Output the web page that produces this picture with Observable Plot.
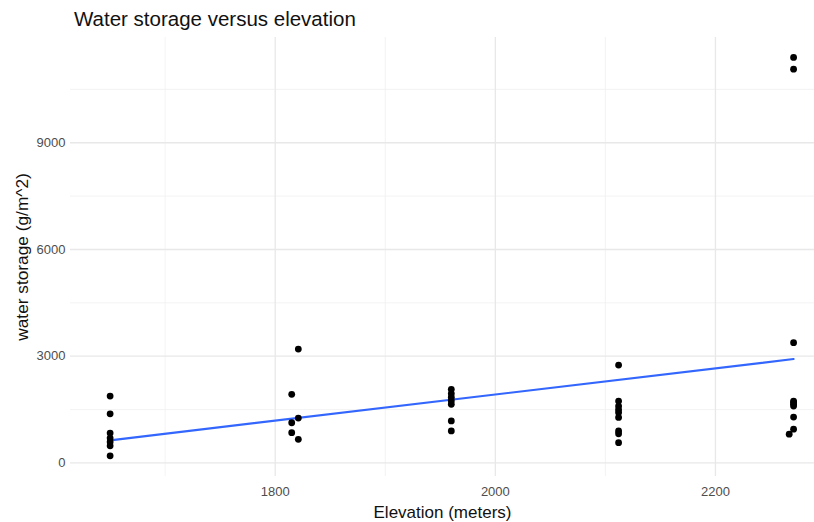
<!DOCTYPE html>
<html>
<head>
<meta charset="utf-8">
<script src="https://cdn.jsdelivr.net/npm/d3@7"></script>
<script src="https://cdn.jsdelivr.net/npm/@observablehq/plot@0.6"></script>
<style>
  body { margin: 0; background: #fff; font-family: "Liberation Sans", Arial, sans-serif; }
  #title { height: 21px; padding-top: 9px; padding-left: 74px; font-size: 20.5px; line-height: 1; color: #111; }
  #chart svg { display: block; }
</style>
</head>
<body>
<div id="title">Water storage versus elevation</div>
<div id="chart"></div>
<script>
const elevation = [
  1650, 1650, 1650, 1650, 1650, 1650, 1650,
  1815, 1815, 1815, 1821, 1821, 1821,
  1960, 1960, 1960, 1960, 1960, 1960, 1960,
  2112, 2112, 2112, 2112, 2112, 2112, 2112, 2112, 2112,
  2271, 2271, 2271, 2271, 2271, 2271, 2271, 2271, 2271, 2267
];
const storage = [
  1880, 1380, 840, 700, 590, 480, 200,
  1930, 1130, 850, 3200, 1260, 665,
  2070, 1950, 1850, 1750, 1650, 1180, 900,
  2750, 1740, 1600, 1500, 1420, 1280, 900, 820, 570,
  11400, 11070, 3380, 1740, 1700, 1650, 1600, 1290, 950, 810
];
const xMajor = [1800, 2000, 2200];
const xMinor = [1700, 1900, 2100];
const yMajor = [0, 3000, 6000, 9000];
const yMinor = [1500, 4500, 7500, 10500];

const data = elevation.map((e, i) => ({elevation: e, storage: storage[i]}));

const chart = Plot.plot({
  width: 814,
  height: 492,
  marginLeft: 70,
  marginRight: 0,
  marginTop: 7,
  marginBottom: 46,
  style: { fontFamily: "Liberation Sans, Arial, sans-serif", background: "#fff" },
  x: { domain: [1614, 2290] },
  y: { domain: [-381, 11959] },
  marks: [
    Plot.ruleX(xMinor, { stroke: "#f0f0f0", strokeWidth: 0.8 }),
    Plot.ruleY(yMinor, { stroke: "#f0f0f0", strokeWidth: 0.8 }),
    Plot.ruleX(xMajor, { stroke: "#e8e8e8", strokeWidth: 1.3 }),
    Plot.ruleY(yMajor, { stroke: "#e8e8e8", strokeWidth: 1.3 }),
    Plot.axisX({ ticks: xMajor, tickSize: 0, tickPadding: 10, tickFormat: d => String(d), fontSize: 13, fill: "#4d4d4d", label: null }),
    Plot.axisY({ ticks: yMajor, tickSize: 0, tickPadding: 5, tickFormat: d => String(d), fontSize: 13, fill: "#4d4d4d", label: null }),
    Plot.text(["Elevation (meters)"], { frameAnchor: "bottom", lineAnchor: "bottom", dy: 41, fontSize: 17, fill: "#111" }),
    Plot.text(["water storage (g/m^2)"], { frameAnchor: "left", textAnchor: "middle", rotate: -90, dx: -48, fontSize: 17.3, fill: "#111" }),
    Plot.linearRegressionY(data, { x: "elevation", y: "storage", ci: 0, stroke: "#3366FF", strokeWidth: 2.2 }),
    Plot.dot(data, { x: "elevation", y: "storage", r: 3.4, fill: "#000", stroke: "none" })
  ]
});
document.getElementById("chart").appendChild(chart);
</script>
</body>
</html>
